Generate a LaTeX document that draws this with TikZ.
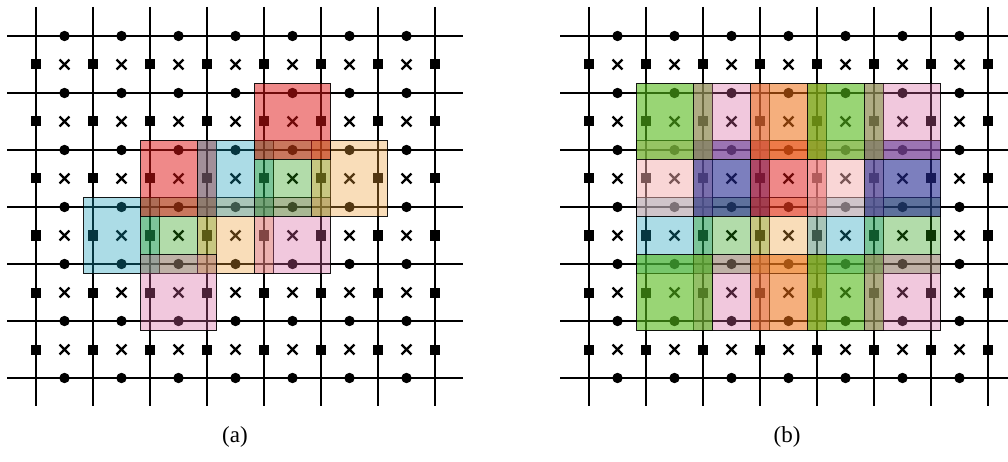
\documentclass[tikz,border=0pt]{standalone}
\usepackage{fontspec}
\setmainfont{Liberation Serif}
\definecolor{cRed}{RGB}{225,20,20}
\definecolor{cCyan}{RGB}{20,155,184}
\definecolor{cLGreen}{RGB}{35,155,12}
\definecolor{cPeach}{RGB}{240,160,55}
\definecolor{cPink}{RGB}{217,98,160}
\definecolor{cBGreen}{RGB}{85,185,25}
\definecolor{cOrange}{RGB}{237,110,19}
\definecolor{cLPink}{RGB}{245,175,175}
\definecolor{cBlue}{RGB}{38,43,147}
\tikzset{
  gridline/.style={line width=2.1pt, black},
  crossmark/.style={line width=2.4pt, black},
  patchbox/.style={draw=black, draw opacity=0.9, line width=1.9pt},
  caption/.style={font=\fontsize{23}{27}\selectfont, inner sep=0pt}
}
% lattice: #1 x of first vertical line, #2 left end, #3 right end of horizontal lines
\newcommand{\lattice}[3]{%
  \foreach \k in {0,...,7} \draw[gridline] ({#1+57*\k},7) -- ({#1+57*\k},406);
  \foreach \j in {0,...,6} \draw[gridline] (#2,{36+57*\j}) -- (#3,{36+57*\j});
  \foreach \k in {0,...,7} \foreach \j in {0,...,5}
    \fill ({#1+57*\k-5},{36+57*(\j+0.5)-5}) rectangle ++(10,10);
  \foreach \i in {0,...,6} \foreach \j in {0,...,6}
    \fill ({#1+57*(\i+0.5)},{36+57*\j}) circle (5.2pt);
  \foreach \i in {0,...,6} \foreach \j in {0,...,5}
    \draw[crossmark] ({#1+57*(\i+0.5)-4.9},{36+57*(\j+0.5)-4.9}) -- ++(9.8,9.8)
                     ({#1+57*(\i+0.5)-4.9},{36+57*(\j+0.5)+4.9}) -- ++(9.8,-9.8);
}
% patch: #1 panel x0, #2 column, #3 row, #4 colour, #5 opacity
\newcommand{\qpatch}[5]{%
  \path[patchbox, fill=#4, fill opacity=#5]
    ({#1+57*(#2+0.5)-38},{36+57*(#3+0.5)-38}) rectangle ++(76,76);
}
\begin{document}
\begin{tikzpicture}[x=1pt,y=-1pt]
\clip (0,0) rectangle (1008,462);
\fill[white] (0,0) rectangle (1008,462);

% ---------- panel (a) ----------
\lattice{36}{7}{463}
% row 3
\qpatch{36}{1}{3}{cCyan}{0.35}
\qpatch{36}{2}{3}{cLGreen}{0.35}
\qpatch{36}{3}{3}{cPeach}{0.35}
\qpatch{36}{4}{3}{cPink}{0.35}
% row 4
\qpatch{36}{2}{4}{cPink}{0.35}
% row 2
\qpatch{36}{2}{2}{cRed}{0.5}
\qpatch{36}{3}{2}{cCyan}{0.35}
\qpatch{36}{4}{2}{cLGreen}{0.35}
\qpatch{36}{5}{2}{cPeach}{0.35}
% row 1
\qpatch{36}{4}{1}{cRed}{0.5}

% ---------- panel (b) ----------
\lattice{589}{560}{1020}
% row 3
\qpatch{589}{1}{3}{cCyan}{0.35}
\qpatch{589}{2}{3}{cLGreen}{0.35}
\qpatch{589}{3}{3}{cPeach}{0.35}
\qpatch{589}{4}{3}{cCyan}{0.35}
\qpatch{589}{5}{3}{cLGreen}{0.35}
% row 2
\qpatch{589}{1}{2}{cLPink}{0.5}
\qpatch{589}{2}{2}{cBlue}{0.6}
\qpatch{589}{3}{2}{cRed}{0.5}
\qpatch{589}{4}{2}{cLPink}{0.5}
\qpatch{589}{5}{2}{cBlue}{0.6}
% row 1
\qpatch{589}{1}{1}{cBGreen}{0.6}
\qpatch{589}{2}{1}{cPink}{0.35}
\qpatch{589}{3}{1}{cOrange}{0.55}
\qpatch{589}{4}{1}{cBGreen}{0.6}
\qpatch{589}{5}{1}{cPink}{0.35}
% row 4
\qpatch{589}{2}{4}{cPink}{0.35}
\qpatch{589}{3}{4}{cOrange}{0.55}
\qpatch{589}{4}{4}{cBGreen}{0.6}
\qpatch{589}{5}{4}{cPink}{0.35}
\qpatch{589}{1}{4}{cBGreen}{0.6}

% ---------- captions ----------
\node[caption] (capa) at (235,437) {(a)};
\node[caption] (capb) at (787,437) {(b)};
\end{tikzpicture}
\end{document}
